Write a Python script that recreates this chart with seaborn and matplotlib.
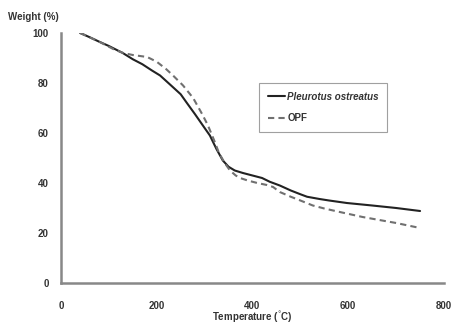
import matplotlib
matplotlib.use("Agg")
import matplotlib.pyplot as plt
import seaborn as sns
import pandas as pd

temp_pleurotus = [40, 60, 80, 100, 129, 150, 170, 190, 207, 230, 250, 263, 280, 300, 311, 325, 338,
                  350, 363, 380, 400, 420, 436, 457, 480, 500, 514, 540, 560, 597, 650, 700, 750]
weight_pleurotus = [100, 98.3, 96.5, 94.8, 92, 89.5, 87.5, 85, 83, 79, 75.5, 72, 67.5, 62, 59, 53.5, 49,
                    46.5, 45, 44, 43, 42, 40.5, 39, 37, 35.5, 34.5, 33.6, 33, 32, 31, 30, 28.8]
temp_opf = [40, 80, 110, 130, 150, 180, 200, 220, 234, 255, 276, 295, 307, 320, 330, 342, 353,
            365, 374, 390, 410, 430, 443, 457, 480, 500, 526, 550, 580, 630, 700, 750]
weight_opf = [100, 96.5, 93.5, 92, 91.2, 90.4, 88.5, 85.5, 83, 79, 74, 67.5, 63, 57, 52, 48, 45,
              43, 42, 41, 40, 39.2, 38.4, 36.4, 34.5, 33, 31, 29.8, 28.5, 26.4, 24, 22]
xticks = [0, 200, 400, 600, 800]
yticks = [0, 20, 40, 60, 80, 100]

sns.set_theme(style="white")
plt.rcParams['font.family'] = ['Liberation Sans', 'DejaVu Sans']

df1 = pd.DataFrame({"T": temp_pleurotus, "W": weight_pleurotus})
df2 = pd.DataFrame({"T": temp_opf, "W": weight_opf})

fig = plt.figure(figsize=(4.57, 3.28), dpi=100)
ax = fig.add_axes([61/457, 45/328, 383/457, 250/328])

sns.lineplot(data=df1, x="T", y="W", ax=ax, color="#222222", linewidth=1.5,
             label="Pleurotus ostreatus")
sns.lineplot(data=df2, x="T", y="W", ax=ax, color="#707070", linewidth=1.5,
             linestyle=(0, (3, 2)), label="OPF")

ax.set_xlim(0, 800)
ax.set_ylim(0, 100)
ax.set_xticks(xticks)
ax.set_yticks(yticks)
ax.set_xticklabels([str(t) for t in xticks], fontsize=7, fontweight="bold", color="#333333")
ax.set_yticklabels([str(t) for t in yticks], fontsize=7, fontweight="bold", color="#333333")
ax.tick_params(axis="both", direction="out", length=3, width=0.8, color="#777777", pad=6)
ax.tick_params(axis="x", pad=10)
for s in ["top", "right"]:
    ax.spines[s].set_visible(False)
for s in ["left", "bottom"]:
    ax.spines[s].set_color("#888888")
    ax.spines[s].set_linewidth(1.8)

ax.set_xlabel("")
ax.set_ylabel("")
fig.text(252/457, 1 - 318/328, "Temperature ($^{\\degree}$C)", fontsize=7, fontweight="bold",
         color="#333333", ha="center", va="center")
fig.text(8/457, 1 - 17/328, "Weight (%)", fontsize=7, fontweight="bold", color="#333333",
         ha="left", va="center")

leg = ax.legend(loc="upper left", bbox_to_anchor=((259-61)/383, (283-83)/250),
                frameon=True, fancybox=False, fontsize=7, handlelength=1.8,
                handletextpad=0.2, labelspacing=1.2, borderpad=0.9, borderaxespad=0)
leg.get_frame().set_edgecolor("#888888")
leg.get_frame().set_linewidth(0.8)
texts = leg.get_texts()
texts[0].set_fontstyle("italic")
for t in texts:
    t.set_fontweight("bold")
    t.set_color("#333333")

fig.savefig("out.png", dpi=100)
